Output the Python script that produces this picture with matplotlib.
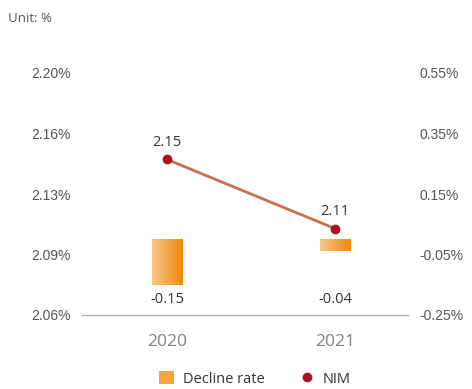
import numpy as np
import matplotlib.pyplot as plt
from matplotlib.colors import LinearSegmentedColormap
from matplotlib.patches import Rectangle
from matplotlib.lines import Line2D

years = ['2020', '2021']
nim = [2.15, 2.11]
decline = [-0.15, -0.04]
left_ticks = [2.06, 2.095, 2.13, 2.165, 2.20]
left_labels = ['2.06%', '2.09%', '2.13%', '2.16%', '2.20%']
right_ticks = [-0.25, -0.05, 0.15, 0.35, 0.55]
right_labels = ['-0.25%', '-0.05%', '0.15%', '0.35%', '0.55%']

grey = '#555555'
fnt = 'Liberation Sans'
fnt2 = 'Open Sans'

fig = plt.figure(figsize=(4.72, 3.89), dpi=100)
ax = fig.add_axes([82/472, 1-315/389, 326/472, 242/389])
ax2 = ax.twinx()

x = np.arange(len(years))
ax.set_xlim(-0.506, 1.435)
ax.set_ylim(2.06, 2.20)
ax2.set_ylim(-0.25, 0.55)

# gradient bars on right axis
cmap = LinearSegmentedColormap.from_list('og', ['#f9c487', '#f08a0c'])
grad = np.linspace(0, 1, 64).reshape(1, -1)
w = 0.18
for xi, v in zip(x, decline):
    r = Rectangle((xi - w/2, v), w, -v, facecolor='none', edgecolor='none')
    ax2.add_patch(r)
    im = ax2.imshow(grad, cmap=cmap, extent=(xi - w/2, xi + w/2, v, 0),
                    aspect='auto', zorder=2)
    im.set_clip_path(r)
    # value labels sit at a fixed level under the baseline
    ax2.text(xi, -0.198, f'{v:.2f}', ha='center', va='center', fontsize=10.5,
             color='#333333', family=fnt2)
ax2.set_xlim(-0.506, 1.435)
ax2.set_ylim(-0.25, 0.55)

# NIM line on left axis, drawn above bars
ax.set_zorder(ax2.get_zorder() + 1)
ax.patch.set_visible(False)
ax.plot(x, nim, color='#c8704c', lw=2, zorder=3)
ax.plot(x, nim, 'o', color='#b0101c', ms=6, zorder=4)
for xi, v in zip(x, nim):
    ax.text(xi, v + 0.0055, f'{v:.2f}', ha='center', va='bottom', fontsize=10.5,
            color='#333333', family=fnt2)

ax.set_yticks(left_ticks)
ax.set_yticklabels(left_labels, fontsize=10, color=grey, family=fnt)
ax2.set_yticks(right_ticks)
ax2.set_yticklabels(right_labels, fontsize=10, color=grey, family=fnt)
ax.set_xticks(x)
ax.set_xticklabels(years, fontsize=12.5, color='#808080', family=fnt2)
ax.tick_params(axis='both', length=0, pad=8)
ax2.tick_params(axis='both', length=0, pad=8)
ax.tick_params(axis='x', pad=14)

for a in (ax, ax2):
    for s in ('top', 'left', 'right'):
        a.spines[s].set_visible(False)
    a.spines['bottom'].set_color('#aaaaaa')
    a.spines['bottom'].set_linewidth(0.8)

fig.text(8/472, 1-18/389, 'Unit: %', fontsize=9.5, color=grey, family=fnt2, va='center')

handles = [Rectangle((0, 0), 1, 1, facecolor='#f4a443'),
           Line2D([], [], marker='o', color='#b0101c', lw=0, ms=6)]
fig.legend(handles, ['Decline rate', 'NIM'], loc='center', bbox_to_anchor=(0.54, 1-379/389),
           ncol=2, frameon=False, handlelength=1.0, handleheight=1.0,
           columnspacing=2.4, handletextpad=0.6, prop={'family': fnt2, 'size': 10.5})
for t in fig.legends[0].get_texts():
    t.set_color('#333333')

fig.savefig('out.png', dpi=100)
